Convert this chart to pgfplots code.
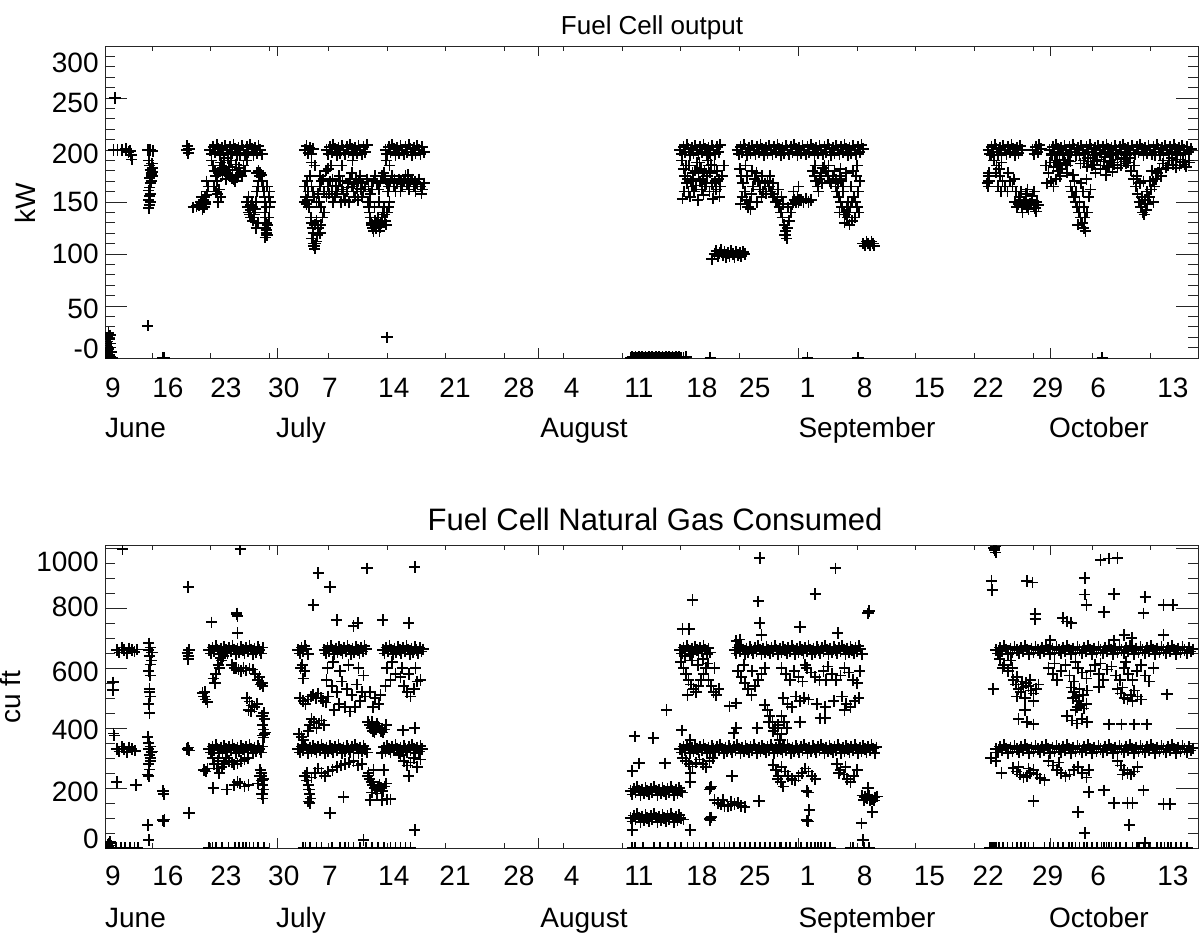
\documentclass[border=0pt]{standalone}
\usepackage{pgfplots}
\pgfplotsset{compat=1.18}
\usepackage{fontspec}
\setmainfont{Liberation Sans}

\newcommand{\lab}{\fontsize{14pt}{16pt}\selectfont}

% 1 px of the original = 0.5pt; x = day number (June 9 = 9, July 1 = 31, Aug 1 = 62, Sep 1 = 93, Oct 1 = 123)
\pgfplotsset{
  fc/.style={
    scale only axis, width=546.5pt,
    xmin=10.4, xmax=140.6,
    axis line style={black!85, line width=0.5pt},
    every tick/.style={black!85, line width=0.5pt},
    tick label style={font=\lab},
    xtick={11.35,17.9,24.8,31.7,37.2,44.8,52.1,59.7,66.0,74.0,81.5,87.8,94.1,100.9,108.6,115.6,122.7,128.7,137.6},
    xticklabels={9,16,23,30,7,14,21,28,4,11,18,25,1,8,15,22,29,6,13},
    major tick length=0pt, minor tick length=5pt,
    extra x ticks={16,23,30,37,44,51,58,65,72,79,86,93,100,107,114,121,128,135},
    extra x tick labels={},
    extra x tick style={major tick length=2.5pt},
    minor xtick={31,62,93,123},
    extra y tick labels={},
    extra y tick style={major tick length=11pt},
    yticklabel style={anchor=east, inner sep=0pt, xshift=-3pt},
    clip marker paths=true,
  },
  pts/.style={only marks, mark=+, mark size=2.8pt, black, mark options={line width=0.85pt}},
}

\begin{document}
\begin{tikzpicture}
\useasboundingbox (0,0) rectangle (599.5pt,-467pt);

% ---------------- Fuel Cell output ----------------
\begin{axis}[fc, at={(52.5pt,-179pt)}, anchor=south west, height=156pt,
  ymin=0, ymax=300,
  ytick={8.7,47,100,150,196,245,284}, yticklabels={-0,50,100,150,200,250,300},
  extra y ticks={0,50,100,150,200,250,300}, minor ytick={0,10,...,300},
  xticklabel style={anchor=base, yshift=-19.5pt}]
% June
\addplot[pts] coordinates {
(10.5,2)(10.6,6)(10.6,12)(10.7,16)(10.7,20)(10.8,24)(10.9,18)(11.0,14)(11.1,10)(11.2,6)(10.9,3)(11.1,1)(11.3,0)(10.8,9)(11.0,22)
(11.6,250)
(11.4,200)(11.9,200)(12.4,200)(12.9,201)(13.2,198)(13.4,199)(13.5,195)(13.6,191)(15.5,200)(15.8,200)(16.1,199)
(15.6,190)(15.7,185)(15.8,181)(15.9,177)(15.7,173)(15.8,168)(15.6,161)(15.7,156)(15.6,152)(15.8,150)(15.7,147)(15.6,144)(15.9,178)(16.1,183)(16.0,187)(15.9,170)(15.7,164)(15.8,158)(16.0,175)(16.1,179)
(15.5,31)(17.3,0)(17.5,0)
(20.1,200)(20.2,204)(20.3,197)(20.4,201)
(20.9,145)(21.3,146)(21.6,147)(21.8,150)(22.0,148)(22.1,152)(22.3,155)(22.2,145)(22.4,150)(22.5,157)(22.6,160)(22.5,170)(22.0,143)(21.9,155)(22.4,148)(22.7,165)
(22.9,200)(23.1,196)(23.3,203)(23.5,198)(23.7,205)(23.9,201)(24.1,195)(24.3,202)(24.5,197)(24.7,204)(24.9,200)(25.1,196)(25.3,203)(25.5,198)(25.7,205)(25.9,201)(26.1,195)(26.3,202)(26.5,197)(26.7,204)(26.9,200)(27.1,196)(27.3,203)(27.5,198)(27.7,205)(27.9,201)(28.1,195)(28.3,202)(28.5,197)(28.7,204)(28.9,200)(29.1,196)
(23.1,190)(23.3,185)(23.5,180)(23.6,175)(23.4,165)(23.6,160)(23.8,158)(24.0,162)(23.7,170)(23.9,178)(24.1,182)(24.3,185)(24.5,183)(24.7,180)(24.9,178)(25.1,176)(25.3,175)(25.5,173)(25.7,172)(25.9,170)(26.1,174)(26.3,176)(26.5,178)(26.7,175)(24.2,188)(24.6,190)(25.0,192)(25.4,190)(23.9,150)(24.2,155)(26.9,185)(27.1,180)(27.3,190)(26.5,195)(24.4,176)(24.8,172)(25.2,184)(25.6,181)(26.0,186)(26.4,183)
(27.3,150)(27.4,145)(27.5,140)(27.6,138)(27.7,142)(27.8,147)(27.9,150)(28.0,145)(28.1,140)(28.2,138)(28.3,143)(28.4,150)(27.5,155)(27.8,135)(28.0,132)(28.5,160)(28.6,165)(28.7,170)(28.8,175)(28.9,178)(29.0,176)(28.5,178)(28.7,180)(28.4,125)(28.6,130)
(29.1,170)(29.2,165)(29.3,160)(29.4,155)(29.5,150)(29.6,145)(29.4,140)(29.5,135)(29.6,130)(29.5,125)(29.6,120)(29.7,118)(29.5,116)(29.6,123)(29.8,128)(29.9,135)(30.0,145)(30.1,150)(29.9,155)(30.0,160)(29.7,165)
};
% July
\addplot[pts] coordinates {
(34.2,200)(34.4,204)(34.6,197)(34.8,202)(35.0,196)(35.2,201)
(34.2,150)(34.3,155)(34.4,148)(34.5,152)(34.6,160)(34.7,145)(34.2,165)(34.5,170)(34.8,175)(35.0,165)(35.2,160)(35.3,155)(35.6,150)(35.8,158)(36.0,165)(36.2,170)(36.4,172)(35.9,150)(36.1,145)(35.4,185)(35.0,188)(36.0,175)
(34.9,135)(35.0,130)(35.1,125)(35.2,120)(35.0,115)(35.2,110)(35.3,108)(35.4,105)(35.5,110)(35.6,112)(35.7,118)(35.4,128)(35.6,132)(35.8,125)(36.0,120)(36.1,128)(36.3,135)(36.5,140)
(36.8,200)(37.0,196)(37.2,203)(37.4,198)(37.6,205)(37.8,201)(38.0,195)(38.2,202)(38.4,197)(38.6,204)(38.8,200)(39.0,196)(39.2,203)(39.4,198)(39.6,205)(39.8,201)(40.0,195)(40.2,202)(40.4,197)(40.6,204)(40.8,200)(41.0,196)(41.2,203)(41.4,198)(41.6,205)
(36.5,160)(36.8,155)(37.0,165)(37.2,170)(37.4,160)(37.6,150)(37.8,155)(38.0,160)(38.2,165)(38.4,170)(38.6,162)(38.8,158)(39.0,152)(39.2,160)(39.4,168)(39.6,172)(39.8,165)(40.0,160)(40.2,155)(40.4,163)(40.6,170)(40.8,175)(41.0,168)(41.2,160)(41.4,165)(41.6,172)(37.5,172)(38.5,150)(39.5,150)(40.5,152)(41.0,155)(38.3,175)(39.8,178)(40.3,172)(41.8,165)(42.0,158)(42.2,162)(42.4,170)(42.6,175)(42.8,168)(43.0,162)(43.2,170)(43.4,175)(43.6,178)(43.8,172)(44.0,168)(44.2,165)(44.4,170)(44.6,175)(44.8,165)(45.0,160)(45.2,168)(45.4,172)(45.6,160)(45.8,165)(46.0,170)(46.2,175)(46.4,168)(46.6,162)(46.8,170)(47.0,172)(47.2,165)(47.4,160)(47.6,168)(47.8,172)(48.0,165)(48.2,162)(48.4,168)(36.7,180)(37.0,182)(37.3,185)(38.6,185)
(37.1,158)(37.9,166)(38.7,170)(39.3,164)(40.1,168)(40.9,162)(44.1,160)(44.9,172)(45.7,170)(46.5,176)(47.3,170)(48.1,158)
(41.7,150)(41.8,145)(41.9,140)(42.0,135)(42.1,130)(42.2,128)(42.3,125)(42.4,122)(42.5,128)(42.6,132)(42.7,125)(42.8,130)(42.9,135)(43.0,128)(43.1,122)(43.2,126)(43.3,130)(43.4,135)(43.5,140)(43.6,145)(43.7,138)(43.8,132)(43.9,128)(44.0,140)(44.2,145)(44.3,150)(42.0,150)(42.5,145)(43.0,150)
(43.8,200)(44.0,196)(44.2,203)(44.4,198)(44.6,205)(44.8,201)(45.0,195)(45.2,202)(45.4,197)(45.6,204)(45.8,200)(46.0,196)(46.2,203)(46.4,198)(46.6,205)(46.8,201)(47.0,195)(47.2,202)(47.4,197)(47.6,204)(47.8,200)(48.0,196)(48.2,203)(48.4,198)
(44.0,20)(39.9,190)(43.9,190)(44.3,185)
};
% August / September
\addplot[pts] coordinates {
(73.0,0)(73.2,1)(73.4,0)(73.6,1)(73.8,0)(74.0,1)(74.2,0)(74.4,1)(74.6,0)(74.8,1)(75.0,0)(75.2,1)(75.4,0)(75.6,1)(75.8,0)(76.0,1)(76.2,0)(76.4,1)(76.6,0)(76.8,1)(77.0,0)(77.2,1)(77.4,0)(77.6,1)(77.8,0)(78.0,1)(78.2,0)(78.4,1)(78.6,0)(78.8,1)(79.0,0)(79.3,0)(79.6,1)(82.5,0)(94.1,0)(100.1,0)
(78.9,200)(79.1,196)(79.3,203)(79.5,198)(79.7,205)(79.9,201)(80.1,195)(80.3,202)(80.5,197)(80.7,204)(80.9,200)(81.1,196)(81.3,203)(81.5,198)(81.7,205)(81.9,201)(82.1,195)(82.3,202)(82.5,197)(82.7,204)(82.9,200)(83.1,196)(83.3,203)(83.5,198)(83.7,205)
(79.1,190)(79.3,182)(79.5,175)(79.7,168)(79.9,160)(80.1,155)(80.3,165)(80.5,172)(80.7,180)(80.9,188)(81.1,178)(81.3,170)(81.5,162)(81.7,157)(81.9,165)(82.1,175)(82.3,185)(82.5,178)(82.7,168)(82.9,160)(83.1,170)(83.3,180)(83.5,172)(83.7,165)(79.4,160)(80.0,185)(80.6,160)(81.2,188)(81.8,180)(82.4,160)(83.0,185)(83.6,155)(79.2,153)(81.0,152)(82.8,153)(83.9,175)(84.1,185)(80.2,170)(81.6,172)(82.2,190)
(79.6,185)(80.4,178)(81.4,182)(82.0,168)(82.6,186)(83.2,162)(79.8,172)(80.8,166)
(82.7,95)(83.0,100)(83.2,103)(83.4,98)(83.6,101)(83.8,104)(84.0,99)(84.2,102)(84.4,97)(84.6,101)(84.8,98)(85.0,103)(85.2,100)(85.4,97)(85.6,102)(85.8,99)(86.0,101)(86.2,98)(86.4,102)(86.6,100)
(85.7,200)(85.9,196)(86.1,203)(86.3,198)(86.5,205)(86.7,201)(86.9,195)(87.1,202)(87.3,197)(87.5,204)(87.7,200)(87.9,196)(88.1,203)(88.3,198)(88.5,205)(88.7,201)(88.9,195)(89.1,202)(89.3,197)(89.5,204)(89.7,200)(89.9,196)(90.1,203)(90.3,198)(90.5,205)(90.7,201)(90.9,195)(91.1,202)(91.3,197)(91.5,204)
(91.7,200)(91.9,196)(92.1,203)(92.3,198)(92.5,205)(92.7,201)(92.9,195)(93.1,202)(93.3,197)(93.5,204)(93.7,200)(93.9,196)(94.1,203)(94.3,198)(94.5,205)(94.7,201)(94.9,195)(95.1,202)(95.3,197)(95.5,204)(95.7,200)(95.9,196)(96.1,203)(96.3,198)(96.5,205)(96.7,201)(96.9,195)(97.1,202)(97.3,197)(97.5,204)(97.7,200)(97.9,196)(98.1,203)(98.3,198)(98.5,205)(98.7,201)(98.9,195)(99.1,202)(99.3,197)(99.5,204)(99.7,200)(99.9,196)(100.1,203)(100.3,198)(100.5,205)(100.7,201)
(86.0,182)(86.2,175)(86.4,168)(86.6,160)(86.8,152)(87.0,145)(87.2,150)(87.4,158)(87.6,165)(87.8,172)(88.0,178)(88.2,170)(88.4,162)(88.6,155)(88.8,160)(89.0,168)(86.3,155)(86.9,175)(87.5,180)(88.1,150)(86.1,148)(87.3,143)(88.7,175)(89.1,158)(86.7,185)
(89.3,170)(89.5,165)(89.7,160)(89.9,158)(90.1,155)(90.3,150)(90.5,152)(90.7,145)(90.9,140)(91.1,135)(91.3,128)(91.5,122)(91.4,118)(91.6,115)(91.7,125)(91.9,132)(92.1,140)(92.3,148)(92.5,152)(92.7,150)(92.9,155)(93.1,152)(90.0,168)(90.6,162)(91.2,148)(91.8,145)(92.4,160)(93.0,165)(91.0,155)(89.6,175)(93.0,150)(93.3,152)(93.6,150)(93.9,153)(94.2,150)(94.5,152)
(94.7,180)(94.9,175)(95.1,170)(95.3,165)(95.5,172)(95.7,178)(95.9,183)(96.1,185)(96.3,180)(96.5,175)(96.7,170)(96.9,168)(97.1,175)(97.3,180)(97.5,172)(97.7,168)(97.9,175)(98.1,170)(98.3,165)(95.0,185)(95.8,168)(96.6,185)(97.4,165)(98.0,182)(95.4,160)
(97.6,160)(97.8,155)(98.0,150)(98.2,145)(98.4,140)(98.6,138)(98.8,135)(99.0,140)(99.2,145)(99.4,150)(99.6,155)(99.8,150)(100.0,145)(100.2,140)(98.5,130)(99.1,128)(99.7,135)(98.3,160)(99.3,165)(100.1,160)(100.3,170)(99.9,175)(98.9,150)(98.1,172)(98.7,178)(99.5,180)(100.0,185)(97.9,140)(99.4,132)(98.8,145)
(100.7,110)(100.9,108)(101.1,112)(101.3,110)(101.5,108)(101.7,112)(101.9,110)(102.0,108)
};
% October
\addplot[pts] coordinates {
(115.6,200)(115.8,196)(116.0,203)(116.2,198)(116.4,205)(116.6,201)(116.8,195)(117.0,202)(117.2,197)(117.4,204)(117.6,200)(117.8,196)(118.0,203)(118.2,198)(118.4,205)(118.6,201)(118.8,195)(119.0,202)(119.2,197)(119.4,204)(119.6,200)
(120.9,200)(121.1,196)(121.3,203)(121.5,198)(121.7,205)(121.9,201)
(122.9,200)(123.1,196)(123.3,203)(123.5,198)(123.7,205)(123.9,201)(124.1,195)(124.3,202)(124.5,197)(124.7,204)(124.9,200)(125.1,196)(125.3,203)(125.5,198)(125.7,205)(125.9,201)(126.1,195)(126.3,202)(126.5,197)(126.7,204)(126.9,200)(127.1,196)(127.3,203)(127.5,198)(127.7,205)(127.9,201)(128.1,195)(128.3,202)(128.5,197)(128.7,204)(128.9,200)(129.1,196)(129.3,203)(129.5,198)(129.7,205)(129.9,201)(130.1,195)(130.3,202)(130.5,197)(130.7,204)(130.9,200)(131.1,196)(131.3,203)(131.5,198)(131.7,205)(131.9,201)(132.1,195)(132.3,202)(132.5,197)(132.7,204)(132.9,200)(133.1,196)(133.3,203)(133.5,198)(133.7,205)(133.9,201)(134.1,195)(134.3,202)(134.5,197)(134.7,204)(134.9,200)(135.1,196)(135.3,203)(135.5,198)(135.7,205)(135.9,201)(136.1,195)(136.3,202)(136.5,197)(136.7,204)(136.9,200)(137.1,196)(137.3,203)(137.5,198)(137.7,205)(137.9,201)(138.1,195)(138.3,202)(138.5,197)(138.7,204)(138.9,200)(139.1,196)(139.3,203)(139.5,198)(139.8,201)
(123.0,188)(123.4,184)(123.8,190)(124.2,186)(124.6,191)(125.0,185)(125.4,189)(126.6,187)(127.0,190)(127.4,184)(127.8,189)(128.2,186)(128.6,191)(129.0,185)(129.4,189)(129.8,184)(130.2,190)(130.6,186)(131.0,191)(131.4,185)(131.8,189)(136.4,187)(136.8,183)(137.2,190)(137.6,186)(138.0,191)(138.4,185)(138.8,189)(139.2,184)(139.6,188)
(115.6,165)(115.7,170)(115.6,175)(115.7,178)(115.5,168)
(116.0,195)(116.3,190)(116.6,185)(116.9,182)(117.2,188)(116.5,178)(117.0,175)(117.3,170)(117.6,165)(117.9,160)(118.2,170)(118.5,165)(117.1,160)(116.8,165)(118.0,178)(118.8,150)(119.0,145)(119.2,148)(119.4,152)(119.6,145)(119.8,148)(120.0,150)(120.2,146)(120.4,143)(120.6,148)(120.8,152)(121.0,147)(121.2,144)(121.4,150)(121.6,147)(119.3,155)(120.1,158)(120.9,156)(119.7,140)(121.3,141)(118.9,160)(119.5,160)(120.3,162)(121.1,160)(118.7,172)
(122.5,185)(122.8,178)(123.1,170)(123.4,165)(123.7,172)(122.6,168)
(123.2,195)(123.6,190)(124.0,185)(124.4,182)(124.8,188)(125.2,190)(124.2,175)(123.9,180)(125.0,178)
(125.4,165)(125.6,160)(125.8,155)(126.0,150)(126.2,145)(126.4,140)(126.6,135)(126.8,130)(127.0,125)(127.2,122)(127.1,135)(127.4,140)(126.5,150)(127.0,145)(127.6,155)(127.8,162)(125.9,170)(126.9,160)(126.3,128)(126.1,160)(126.7,168)(127.3,172)(125.7,176)
(126.5,195)(127.5,192)(128.5,190)(129.5,193)(130.5,188)(131.5,192)(128.0,185)(129.0,182)(130.0,185)(131.0,183)(132.0,187)(128.3,195)(130.8,196)(128.4,178)(129.6,176)(130.4,179)
(132.0,195)(132.3,188)(132.6,180)(132.9,172)(133.2,165)(133.4,158)(133.6,150)(133.8,145)(134.0,140)(134.2,138)(134.4,142)(134.6,148)(134.8,155)(135.0,162)(135.2,170)(135.4,165)(135.6,172)(135.8,178)(136.0,182)(136.2,175)(133.3,175)(134.5,160)(133.9,155)(135.3,150)(134.1,170)(132.5,192)(133.0,185)(133.7,168)(134.3,152)(134.9,170)(135.1,180)
(135.5,195)(136.5,190)(137.5,192)(138.5,188)(139.5,190)(137.0,185)(138.0,183)(139.0,186)
(129.2,0)
};
\end{axis}

% ---------------- Natural gas consumed ----------------
\begin{axis}[fc, at={(52.5pt,-424pt)}, anchor=south west, height=151.5pt,
  ymin=0, ymax=1010,
  ytick={30,187,393,587,803,953}, yticklabels={0,200,400,600,800,1000},
  extra y ticks={0,200,400,600,800,1000}, minor ytick={0,50,...,1000},
  xticklabel style={anchor=base, yshift=-18.5pt}]
% June
\addplot[pts] coordinates {
(12.5,997)(11.35,553)(11.35,527)(11.4,382)(11.5,375)
(11.8,660)(12.1,652)(12.4,668)(12.7,660)(13.0,650)(13.3,666)(13.6,660)(13.9,654)(14.2,662)(15.6,660)(15.8,668)(16.0,652)
(15.6,683)(15.7,640)(15.8,612)(15.6,590)(15.7,530)(15.8,505)(15.6,480)(15.7,450)(15.9,625)(15.8,575)(15.7,520)
(11.8,330)(12.1,322)(12.4,338)(12.7,330)(13.0,320)(13.3,336)(13.6,330)(14.0,324)(15.6,330)(15.8,338)(16.0,322)
(15.6,350)(15.7,310)(15.8,300)(15.6,280)(15.7,262)(15.5,245)(15.6,240)(15.8,290)(15.9,318)(15.5,370)
(11.8,220)(14.1,210)(15.5,77)(15.6,27)(17.3,190)(17.4,180)(17.3,93)(17.4,90)(17.5,95)
(10.6,0)(10.9,0)(11.3,0)(11.7,0)(12.3,0)(12.8,0)(13.4,0)(13.9,0)(14.3,0)
(10.7,10)(10.9,15)(11.1,8)(11.0,20)(10.8,5)
(20.3,870)(20.2,650)(20.3,640)(20.4,660)(20.3,630)(20.2,330)(20.3,335)(20.4,325)(20.4,117)
(22.0,517)(22.2,505)(22.4,495)(22.6,487)(22.3,520)(22.2,260)(22.4,255)(22.6,265)(23.1,753)
(22.8,660)(23.0,648)(23.2,668)(23.4,655)(23.6,674)(23.8,663)(24.0,646)(24.2,666)(24.4,652)(24.6,671)(24.8,660)(25.0,648)(25.2,668)(25.4,655)(25.6,674)(25.8,663)(26.0,646)(26.2,666)(26.4,652)(26.6,671)(26.8,660)(27.0,648)(27.2,668)(27.4,655)(27.6,674)(27.8,663)(28.0,646)(28.2,666)(28.4,652)(28.6,671)(28.8,660)(29.0,648)(29.2,668)
(22.8,330)(23.0,318)(23.2,338)(23.4,325)(23.6,344)(23.8,333)(24.0,316)(24.2,336)(24.4,322)(24.6,341)(24.8,330)(25.0,318)(25.2,338)(25.4,325)(25.6,344)(25.8,333)(26.0,316)(26.2,336)(26.4,322)(26.6,341)(26.8,330)(27.0,318)(27.2,338)(27.4,325)(27.6,344)(27.8,333)(28.0,316)(28.2,336)(28.4,322)(28.6,341)(28.8,330)(29.0,318)(29.2,338)
(23.3,565)(23.6,580)(23.9,611)(24.2,633)(24.5,640)(23.5,550)(24.0,600)(24.3,625)
(23.4,280)(23.7,265)(24.0,250)(24.3,270)(24.6,280)(23.2,300)(23.9,290)(24.8,300)(25.2,290)(25.5,285)(25.8,278)(26.2,282)(26.6,290)(27.0,295)(27.4,300)
(23.3,200)(24.9,195)(26.1,783)(26.2,717)(26.5,997)(26.2,773)(26.1,780)
(26.0,600)(26.3,595)(26.6,590)(26.9,600)(27.2,592)(27.6,598)(25.5,610)(25.8,600)
(25.8,210)(26.5,215)(27.0,205)(27.5,210)(26.2,220)
(27.3,500)(27.6,488)(27.9,475)(28.2,470)(28.5,480)(27.5,460)(27.8,455)
(28.0,595)(28.3,580)(28.6,560)(28.9,545)(29.2,540)(28.8,570)(29.1,550)
(29.3,450)(29.4,430)(29.2,410)(29.3,395)(29.4,380)(29.2,375)(29.3,368)(29.5,385)(29.1,440)
(28.9,260)(29.0,240)(29.1,225)(29.2,210)(29.3,195)(29.1,180)(29.2,165)(29.0,250)(29.3,230)(28.8,240)(28.6,215)
(22.8,0)(23.2,0)(23.6,0)(24.3,0)(25.1,0)(25.9,0)(26.4,0)(26.8,0)(27.2,0)(27.6,0)(28.1,0)(28.6,0)(29.3,0)
};
% July
\addplot[pts] coordinates {
(33.4,660)(33.6,648)(33.8,668)(34.0,655)(34.2,674)(34.4,663)(34.6,646)
(36.5,660)(36.7,648)(36.9,668)(37.1,655)(37.3,674)(37.5,663)(37.7,646)(37.9,666)(38.1,652)(38.3,671)(38.5,660)(38.7,648)(38.9,668)(39.1,655)(39.3,674)(39.5,663)(39.7,646)(39.9,666)(40.1,652)(40.3,671)(40.5,660)(40.7,648)(40.9,668)(41.1,655)(41.3,674)(41.5,663)
(43.5,660)(43.7,648)(43.9,668)(44.1,655)(44.3,674)(44.5,663)(44.7,646)(44.9,666)(45.1,652)(45.3,671)(45.5,660)(45.7,648)(45.9,668)(46.1,655)(46.3,674)(46.5,663)(46.7,646)(46.9,666)(47.1,652)(47.3,671)(47.5,660)(47.7,648)(47.9,668)(48.1,655)(48.3,663)
(33.9,610)(34.2,590)(34.0,565)(33.7,600)
(33.6,500)(34.0,490)(34.3,480)(34.6,495)(34.9,505)(35.2,510)(35.5,500)(35.8,515)(36.1,500)(36.4,490)(36.7,485)(37.0,505)
(33.5,380)(33.8,370)(34.0,360)(34.3,345)(34.6,390)(34.8,410)(35.0,430)(35.3,420)(35.6,400)(35.9,415)(36.2,425)(36.5,410)
(33.4,330)(33.6,318)(33.8,338)(34.0,325)(34.2,344)(34.4,333)(34.6,316)(34.8,336)(35.0,322)(35.2,341)(35.4,330)(35.6,318)(35.8,338)(36.0,325)(36.2,344)(36.4,333)(36.6,316)(36.8,336)(37.0,322)(37.2,341)(37.4,330)(37.6,318)(37.8,338)(38.0,325)(38.2,344)(38.4,333)(38.6,316)(38.8,336)(39.0,322)(39.2,341)(39.4,330)(39.6,318)(39.8,338)(40.0,325)(40.2,344)(40.4,333)(40.6,316)(40.8,336)(41.0,322)(41.2,341)(41.4,330)(41.6,318)
(43.4,316)(43.6,336)(43.8,322)(44.0,341)(44.2,330)(44.4,318)(44.6,338)(44.8,325)(45.0,344)(45.2,333)(45.4,316)(45.6,336)(45.8,322)(46.0,341)(46.2,330)(46.4,318)(46.6,338)(46.8,325)(47.0,344)(47.2,333)(47.4,316)(47.6,336)(47.8,322)(48.0,341)(48.2,330)
(34.2,240)(34.4,225)(34.6,210)(34.7,195)(34.8,180)(34.9,165)(34.6,155)(34.8,150)(34.5,250)(35.0,235)(35.4,250)(35.8,265)(36.2,250)(36.6,240)(37.0,255)(37.5,260)(38.0,270)(38.5,275)(39.0,280)(39.5,285)(40.0,290)(40.5,275)(41.0,280)
(35.2,810)(35.8,917)(37.2,870)(37.2,117)(38.8,170)(38.0,760)(40.5,750)(41.6,933)(41.2,27)
(36.8,560)(37.4,540)(38.0,520)(38.6,555)(39.2,530)(39.8,510)(40.4,545)(41.0,520)(37.7,460)(38.3,480)(39.0,470)(39.6,455)(40.2,470)(40.8,490)(41.4,505)(36.9,600)(37.6,620)(38.4,590)(39.4,610)(40.6,600)(41.2,575)(42.0,520)(42.6,500)(43.2,510)(43.8,540)(44.4,560)(45.0,580)(42.3,470)(43.0,480)(44.0,600)(44.6,620)
(41.7,420)(41.9,410)(42.1,400)(42.3,390)(42.5,385)(42.7,395)(42.9,405)(43.1,400)(43.3,390)(43.5,385)(43.7,395)(43.9,410)(42.2,420)(42.8,415)
(41.7,240)(41.9,230)(42.1,220)(42.3,210)(42.5,200)(42.7,195)(42.9,205)(43.1,210)(43.3,200)(43.5,190)(43.7,205)(43.9,215)(42.2,185)(42.8,182)(41.8,250)(42.4,260)(43.6,260)(43.4,160)(44.4,163)
(42.0,160)(44.0,163)(40.0,740)(43.5,760)
(34.0,0)(34.3,0)(34.8,0)(35.6,0)(36.2,0)(37.4,0)(38.4,0)(39.0,0)(39.4,0)(40.0,0)(40.8,0)(41.5,0)(42.2,0)(42.9,0)(43.6,0)(44.4,0)(45.0,0)(45.6,0)(46.2,0)(46.8,0)
(45.6,570)(46.0,540)(46.4,520)(46.8,505)(47.2,530)(47.6,555)(48.0,560)(45.8,600)(46.6,580)(47.4,600)
(45.6,310)(46.0,290)(46.4,275)(46.8,285)(47.2,300)(47.6,270)(48.0,295)
(47.3,937)(46.6,750)(47.3,400)(45.9,393)(46.6,240)(47.3,60)
};
% August / September
\addplot[pts] coordinates {
(73.0,190)(73.2,178)(73.4,198)(73.6,185)(73.8,204)(74.0,193)(74.2,176)(74.4,196)(74.6,182)(74.8,201)(75.0,190)(75.2,178)(75.4,198)(75.6,185)(75.8,204)(76.0,193)(76.2,176)(76.4,196)(76.6,182)(76.8,201)(77.0,190)(77.2,178)(77.4,198)(77.6,185)(77.8,204)(78.0,193)(78.2,176)(78.4,196)(78.6,182)(78.8,201)(79.0,190)(79.2,185)
(73.0,100)(73.2,88)(73.4,108)(73.6,95)(73.8,114)(74.0,103)(74.2,86)(74.4,106)(74.6,92)(74.8,111)(75.0,100)(75.2,88)(75.4,108)(75.6,95)(75.8,114)(76.0,103)(76.2,86)(76.4,106)(76.6,92)(76.8,111)(77.0,100)(77.2,88)(77.4,108)(77.6,95)(77.8,114)(78.0,103)(78.2,86)(78.4,106)(78.6,92)(78.8,111)(79.0,100)(79.3,95)
(73.5,373)(75.7,367)(74.0,283)(77.1,283)(73.2,257)(73.2,60)(77.3,460)(80.4,827)(79.2,730)(80.0,730)
(78.9,660)(79.1,648)(79.3,668)(79.5,655)(79.7,674)(79.9,663)(80.1,646)(80.3,666)(80.5,652)(80.7,671)(80.9,660)(81.1,648)(81.3,668)(81.5,655)(81.7,674)(81.9,663)(82.1,646)(82.3,666)(82.5,652)
(79.0,620)(79.3,600)(79.6,580)(79.9,560)(80.2,545)(80.5,530)(80.8,520)(81.1,540)(81.4,560)(81.7,580)(82.0,600)(82.3,560)(82.6,540)(82.9,520)(83.2,510)(83.5,530)(79.5,640)(80.3,625)(81.0,610)(81.6,630)(82.2,615)(83.0,600)(79.8,510)
(79.1,393)(80.1,360)
(78.9,330)(79.1,318)(79.3,338)(79.5,325)(79.7,344)(79.9,333)(80.1,316)(80.3,336)(80.5,322)(80.7,341)
(80.9,330)(81.1,318)(81.3,338)(81.5,325)(81.7,344)(81.9,333)(82.1,316)(82.3,336)(82.5,322)(82.7,341)
(82.9,330)(83.1,318)(83.3,338)(83.5,325)(83.7,344)(83.9,333)(84.1,316)(84.3,336)(84.5,322)(84.7,341)
(84.9,330)(85.1,318)(85.3,338)(85.5,325)(85.7,344)(85.9,333)(86.1,316)(86.3,336)(86.5,322)(86.7,341)
(86.9,330)(87.1,318)(87.3,338)(87.5,325)(87.7,344)(87.9,333)(88.1,316)(88.3,336)(88.5,322)(88.7,341)
(88.9,330)(89.1,318)(89.3,338)(89.5,325)(89.7,344)(89.9,333)(90.1,316)(90.3,336)(90.5,322)(90.7,341)
(90.9,330)(91.1,318)(91.3,338)(91.5,325)(91.7,344)(91.9,333)(92.1,316)(92.3,336)(92.5,322)(92.7,341)
(92.9,330)(93.1,318)(93.3,338)(93.5,325)(93.7,344)(93.9,333)(94.1,316)(94.3,336)(94.5,322)(94.7,341)
(94.9,330)(95.1,318)(95.3,338)(95.5,325)(95.7,344)(95.9,333)(96.1,316)(96.3,336)(96.5,322)(96.7,341)
(96.9,330)(97.1,318)(97.3,338)(97.5,325)(97.7,344)(97.9,333)(98.1,316)(98.3,336)(98.5,322)(98.7,341)
(98.9,330)(99.1,318)(99.3,338)(99.5,325)(99.7,344)(99.9,333)(100.1,316)(100.3,336)(100.5,322)(100.7,341)
(100.9,330)(101.1,318)(101.3,338)(101.5,325)(101.7,344)(101.9,333)(102.1,316)(102.3,336)
(79.2,300)(79.6,290)(80.0,280)(80.4,272)(80.8,285)(81.2,295)(81.6,280)(82.0,270)(82.4,290)(82.8,300)
(80.1,250)(80.1,220)(80.1,60)
(82.5,200)(82.4,195)(82.6,205)(82.5,100)(82.4,97)(82.6,103)(82.5,92)
(83.0,160)(83.4,150)(83.8,145)(84.2,140)(84.6,138)(85.0,142)(85.4,145)(85.8,150)(86.2,140)(86.6,137)(84.0,160)(85.0,155)
(85.1,240)(85.4,147)(88.3,157)
(85.4,660)(85.6,648)(85.8,668)(86.0,655)(86.2,674)(86.4,663)(86.6,646)(86.8,666)(87.0,652)(87.2,671)(87.4,660)(87.6,648)(87.8,668)(88.0,655)(88.2,674)(88.4,663)(88.6,646)(88.8,666)(89.0,652)(89.2,671)(89.4,660)(89.6,648)(89.8,668)(90.0,655)(90.2,674)(90.4,663)(90.6,646)(90.8,666)(91.0,652)(91.2,671)(91.4,660)(91.6,648)(91.8,668)(92.0,655)(92.2,674)(92.4,663)(92.6,646)(92.8,666)(93.0,652)(93.2,671)(93.4,660)(93.6,648)(93.8,668)(94.0,655)(94.2,674)(94.4,663)(94.6,646)(94.8,666)(95.0,652)(95.2,671)(95.4,660)(95.6,648)(95.8,668)(96.0,655)(96.2,674)(96.4,663)(96.6,646)(96.8,666)(97.0,652)(97.2,671)(97.4,660)(97.6,648)(97.8,668)(98.0,655)(98.2,674)(98.4,663)(98.6,646)(98.8,666)(99.0,652)(99.2,671)(99.4,660)(99.6,648)(99.8,668)(100.0,655)(100.2,674)(100.4,663)(100.6,646)
(85.6,690)(86.0,695)(88.4,967)(88.2,823)(88.4,750)(88.6,710)
(85.8,590)(86.2,570)(86.6,550)(87.0,530)(87.4,510)(87.8,540)(88.2,560)(88.6,580)(89.0,600)(86.5,610)(87.5,590)
(84.8,473)(85.6,483)(85.3,383)(85.6,400)(88.1,400)
(89.0,477)(89.3,460)(89.6,440)(89.9,420)(90.2,400)(90.5,380)(90.8,360)(91.1,345)(89.5,420)(90.0,390)(90.6,410)(91.0,380)
(90.0,277)(90.3,260)(90.6,240)(90.9,220)(91.2,205)(90.5,230)
(73.2,0)(73.5,0)(74.5,0)(75.8,0)(76.5,0)(77.5,0)(78.3,0)(79.0,0)(79.8,0)(80.5,0)(81.2,0)(82.0,0)(82.8,0)(83.6,0)(84.2,0)(84.8,0)(85.3,0)(86.0,0)(86.6,0)(87.2,0)(87.8,0)(88.4,0)(89.0,0)(89.6,0)(90.2,0)(90.8,0)
(97.4,933)(95.0,847)(101.3,783)(101.4,790)(93.2,737)(97.7,717)
(91.0,600)(91.5,580)(92.0,560)(92.5,590)(93.0,570)(93.5,555)(94.0,600)(94.5,585)(95.0,570)(95.5,560)(96.0,590)(96.5,605)(97.0,580)(97.5,560)(98.0,575)(98.5,600)(99.0,585)(99.5,560)(100.0,550)(100.3,590)(93.8,610)(96.3,560)
(91.2,500)(91.7,480)(92.2,470)(92.7,505)(93.2,490)(93.7,500)(94.2,495)(95.2,480)(96.2,470)(97.2,490)(98.2,505)(98.7,480)(99.2,470)(99.7,490)(100.2,500)(98.5,460)
(91.0,440)(91.3,420)(91.6,400)(93.2,420)(95.6,433)(96.2,433)
(91.0,270)(91.4,255)(91.8,240)(92.2,230)(92.6,225)(93.0,240)(93.4,250)(93.8,265)(94.2,255)(94.6,240)(95.0,230)(97.6,280)(98.0,260)(98.4,245)(98.8,230)(99.2,220)(99.6,240)(100.0,260)(97.8,250)(98.6,270)
(94.0,190)(94.2,185)(94.1,90)(94.2,88)(94.0,93)(94.3,127)
(100.6,175)(100.9,170)(101.2,165)(101.5,160)(101.8,162)(102.1,168)(102.4,172)(100.8,160)(101.4,175)(102.0,158)
(100.5,83)(100.7,27)(101.3,200)(101.8,120)
(91.0,0)(91.5,0)(92.0,0)(92.7,0)(93.3,0)(94.0,0)(94.5,0)(95.0,0)(95.3,0)(95.7,0)(96.2,0)(96.8,0)(99.2,0)(99.5,0)(100.8,0)(101.4,0)
};
% October
\addplot[pts] coordinates {
(116.4,993)(116.5,1005)(116.6,1015)(116.3,1000)(116.5,985)(116.0,890)(116.1,860)(120.2,890)(120.9,885)(121.2,780)(121.2,763)(116.2,530)
(116.5,660)(116.75,648)(117.0,668)(117.25,655)(117.5,674)(117.75,663)(118.0,646)(118.25,666)(118.5,652)(118.75,671)
(119.0,660)(119.25,648)(119.5,668)(119.75,655)(120.0,674)(120.25,663)(120.5,646)(120.75,666)(121.0,652)(121.25,671)
(121.5,660)(121.75,648)(122.0,668)(122.25,655)(122.5,674)(122.75,663)(123.0,646)(123.25,666)(123.5,652)(123.75,671)
(124.0,660)(124.25,648)(124.5,668)(124.75,655)(125.0,674)(125.25,663)(125.5,646)(125.75,666)(126.0,652)(126.25,671)
(126.5,660)(126.75,648)(127.0,668)(127.25,655)(127.5,674)(127.75,663)(128.0,646)(128.25,666)(128.5,652)(128.75,671)
(129.0,660)(129.25,648)(129.5,668)(129.75,655)(130.0,674)(130.25,663)(130.5,646)(130.75,666)(131.0,652)(131.25,671)
(131.5,660)(131.75,648)(132.0,668)(132.25,655)(132.5,674)(132.75,663)(133.0,646)(133.25,666)(133.5,652)(133.75,671)
(134.0,660)(134.25,648)(134.5,668)(134.75,655)(135.0,674)(135.25,663)(135.5,646)(135.75,666)(136.0,652)(136.25,671)
(136.5,660)(136.75,648)(137.0,668)(137.25,655)(137.5,674)(137.75,663)(138.0,646)(138.25,666)(138.5,652)(138.75,671)
(139.0,660)(139.25,648)(139.5,668)(139.75,655)(140.0,663)
(116.5,330)(116.75,318)(117.0,338)(117.25,325)(117.5,344)(117.75,333)(118.0,316)(118.25,336)(118.5,322)(118.75,341)
(119.0,330)(119.25,318)(119.5,338)(119.75,325)(120.0,344)(120.25,333)(120.5,316)(120.75,336)(121.0,322)(121.25,341)
(121.5,330)(121.75,318)(122.0,338)(122.25,325)(122.5,344)(122.75,333)(123.0,316)(123.25,336)(123.5,322)(123.75,341)
(124.0,330)(124.25,318)(124.5,338)(124.75,325)(125.0,344)(125.25,333)(125.5,316)(125.75,336)(126.0,322)(126.25,341)
(126.5,330)(126.75,318)(127.0,338)(127.25,325)(127.5,344)(127.75,333)(128.0,316)(128.25,336)(128.5,322)(128.75,341)
(129.0,330)(129.25,318)(129.5,338)(129.75,325)(130.0,344)(130.25,333)(130.5,316)(130.75,336)(131.0,322)(131.25,341)
(131.5,330)(131.75,318)(132.0,338)(132.25,325)(132.5,344)(132.75,333)(133.0,316)(133.25,336)(133.5,322)(133.75,341)
(134.0,330)(134.25,318)(134.5,338)(134.75,325)(135.0,344)(135.25,333)(135.5,316)(135.75,336)(136.0,322)(136.25,341)
(136.5,330)(136.75,318)(137.0,338)(137.25,325)(137.5,344)(137.75,333)(138.0,316)(138.25,336)(138.5,322)(138.75,341)
(139.0,330)(139.25,318)(139.5,338)(139.75,325)(140.0,333)
(117.0,630)(117.5,610)(118.0,590)(118.5,600)(119.0,570)(117.3,600)(118.3,625)
(118.6,560)(118.9,545)(119.2,530)(119.5,520)(119.8,535)(120.1,550)(120.4,540)(120.7,525)(121.0,515)(121.3,530)(121.6,545)(119.0,505)(120.0,500)(121.0,490)(119.6,555)(120.6,560)
(120.0,460)(119.2,430)(120.2,420)(121.0,413)
(116.5,290)(117.2,250)(115.9,300)
(118.6,267)(119.0,255)(119.4,245)(119.8,235)(120.2,240)(120.6,250)(121.0,260)(121.4,245)(121.8,233)(119.2,270)(120.4,265)
(122.3,227)(121.0,157)
(124.5,767)(125.0,755)(125.5,750)(123.0,693)
(127.1,900)(127.1,845)(127.3,810)(129.0,960)(130.0,965)(131.0,967)(130.6,847)(129.4,787)(134.3,837)(134.1,783)(136.5,810)(137.6,810)(130.6,693)(131.8,710)(132.7,700)(136.5,710)
(122.8,600)(123.3,580)(123.8,560)(124.3,590)(124.8,610)(125.3,575)(125.8,555)(126.3,600)(126.8,585)(127.3,565)(127.8,590)(128.3,610)(128.8,580)(129.3,560)(129.8,595)(130.3,605)(130.8,575)(131.3,560)(131.8,600)(132.3,580)(132.8,560)(133.3,590)(133.8,610)(134.3,575)(134.8,555)(135.3,600)(123.5,615)(126.0,620)(129.0,615)(132.0,620)
(125.5,535)(125.8,520)(126.1,505)(126.4,490)(126.7,475)(127.0,465)(127.3,480)(125.7,500)(126.2,470)(126.9,510)(127.4,525)(126.5,530)(126.0,460)
(131.0,530)(131.4,515)(131.8,500)(132.2,495)(132.6,510)(133.0,525)(133.4,505)(133.8,495)(131.6,535)(132.8,490)
(128.8,537)(136.9,513)
(125.0,440)(125.6,425)(126.2,415)(126.8,430)(127.4,420)(130.0,413)(131.5,413)(133.0,413)(134.5,413)
(122.8,290)(123.3,275)(123.8,260)(124.3,250)(124.8,240)(125.3,245)(125.8,260)(126.3,270)(126.8,250)(127.3,235)(127.6,260)(124.0,285)
(131.0,290)(131.4,275)(131.8,260)(132.2,250)(132.6,245)(133.0,255)(133.4,270)(131.6,245)
(126.3,120)(127.6,187)(129.4,193)(130.6,150)(132.2,150)(132.8,150)(134.1,193)(136.5,147)(137.3,147)(132.4,77)(127.1,50)(134.3,17)
(115.8,0)(116.0,0)(116.2,0)(116.4,0)(116.6,0)(116.9,0)(117.4,0)(117.9,0)(118.5,0)(119.0,0)(119.5,0)(120.0,0)(120.4,0)(121.0,0)(122.3,0)(122.9,0)(123.4,0)(123.9,0)(124.5,0)(125.2,0)(125.6,0)(126.0,0)(126.5,0)(127.0,0)(127.4,0)(128.0,0)(128.6,0)(129.1,0)(129.4,0)(129.7,0)(130.0,0)(130.3,0)(130.8,0)(131.3,0)(132.0,0)(132.8,0)(133.3,0)(133.6,0)(134.2,0)(134.8,0)(135.7,0)(136.2,0)(136.6,0)(137.0,0)(137.4,0)(138.0,0)(138.6,0)(139.3,0)
};
\end{axis}

% titles, axis labels and month names
\node[anchor=base, font=\fontsize{13pt}{15pt}\selectfont] at (326pt,-17pt) {Fuel Cell output};
\node[anchor=base, font=\fontsize{15.5pt}{17pt}\selectfont] at (327.5pt,-265pt) {Fuel Cell Natural Gas Consumed};
\node[rotate=90, anchor=base] at (17.5pt,-101.5pt) {\lab kW};
\node[rotate=90, anchor=base] at (10pt,-348.5pt) {\lab cu ft};
\foreach \y in {-218.5pt,-463.5pt} {
  \node[anchor=base, font=\lab] at (67.75pt,\y) {June};
  \node[anchor=base, font=\lab] at (150.5pt,\y) {July};
  \node[anchor=base, font=\lab] at (292pt,\y) {August};
  \node[anchor=base, font=\lab] at (433.5pt,\y) {September};
  \node[anchor=base, font=\lab] at (549.5pt,\y) {October};
}
\end{tikzpicture}
\end{document}
